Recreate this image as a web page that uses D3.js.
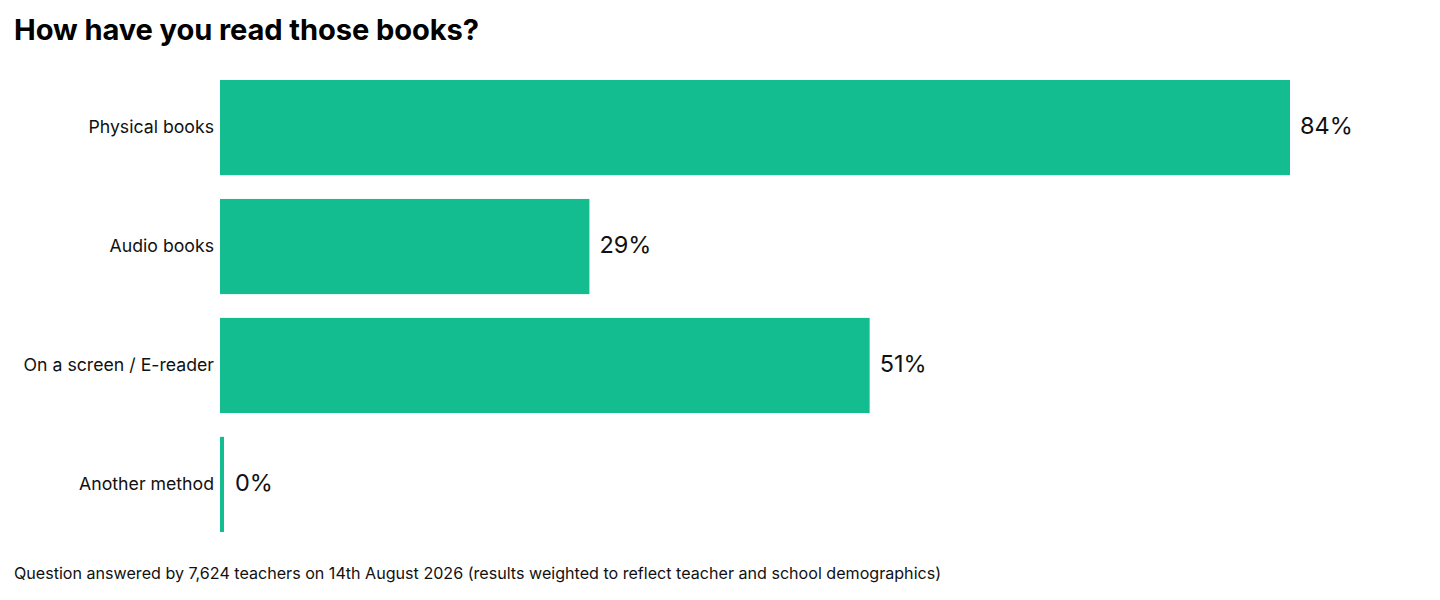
<!DOCTYPE html>
<html><head><meta charset="utf-8">
<script src="https://cdn.jsdelivr.net/npm/d3@7"></script>
<style>body{margin:0;background:#fff;font-family:Inter,"Noto Sans",sans-serif;}</style>
</head><body><svg id="c" width="1440" height="600"></svg>
<script>
const categories = ["Physical books","Audio books","On a screen / E-reader","Another method"];
const values = [84, 29, 51, 0];
const valueLabels = ["84%","29%","51%","0%"];
const title = "How have you read those books?";
const footnote = "Question answered by 7,624 teachers on 14th August 2026 (results weighted to reflect teacher and school demographics)";

const svg = d3.select("#c");
const x = d3.scaleLinear().domain([0, 84]).range([220, 1290]);
const y = d3.scaleBand().domain(categories).range([80, 532]).paddingInner(0.2).paddingOuter(0);
const minW = 4;

svg.append("text").attr("x", 14).attr("y", 40).attr("font-size", 29.1).attr("font-weight", 700)
  .attr("fill", "#000").attr("letter-spacing", -0.1).text(title);

const data = categories.map((c, i) => ({c, v: values[i], l: valueLabels[i]}));

svg.selectAll("rect.bar").data(data).join("rect").attr("class","bar")
  .attr("x", x(0)).attr("y", d => y(d.c))
  .attr("width", d => Math.max(x(d.v) - x(0), minW))
  .attr("height", y.bandwidth()).attr("fill", "#13bd8f");

svg.selectAll("text.cat").data(data).join("text").attr("class","cat")
  .attr("x", x(0) - 6).attr("y", d => y(d.c) + y.bandwidth()/2 - 1)
  .attr("dy", "0.35em").attr("text-anchor", "end").attr("font-size", 17.7).attr("fill", "#111")
  .text(d => d.c);

svg.selectAll("text.val").data(data).join("text").attr("class","val")
  .attr("x", d => Math.max(x(d.v), x(0) + minW) + (d.v === 0 ? 11 : 10))
  .attr("y", d => y(d.c) + y.bandwidth()/2 - 2)
  .attr("dy", "0.35em").attr("font-size", 23.5).attr("font-weight", 400).attr("fill", "#111")
  .text(d => d.l);

svg.append("text").attr("x", 14).attr("y", 579).attr("font-size", 16.1).attr("fill", "#111").text(footnote);
</script></body></html>
